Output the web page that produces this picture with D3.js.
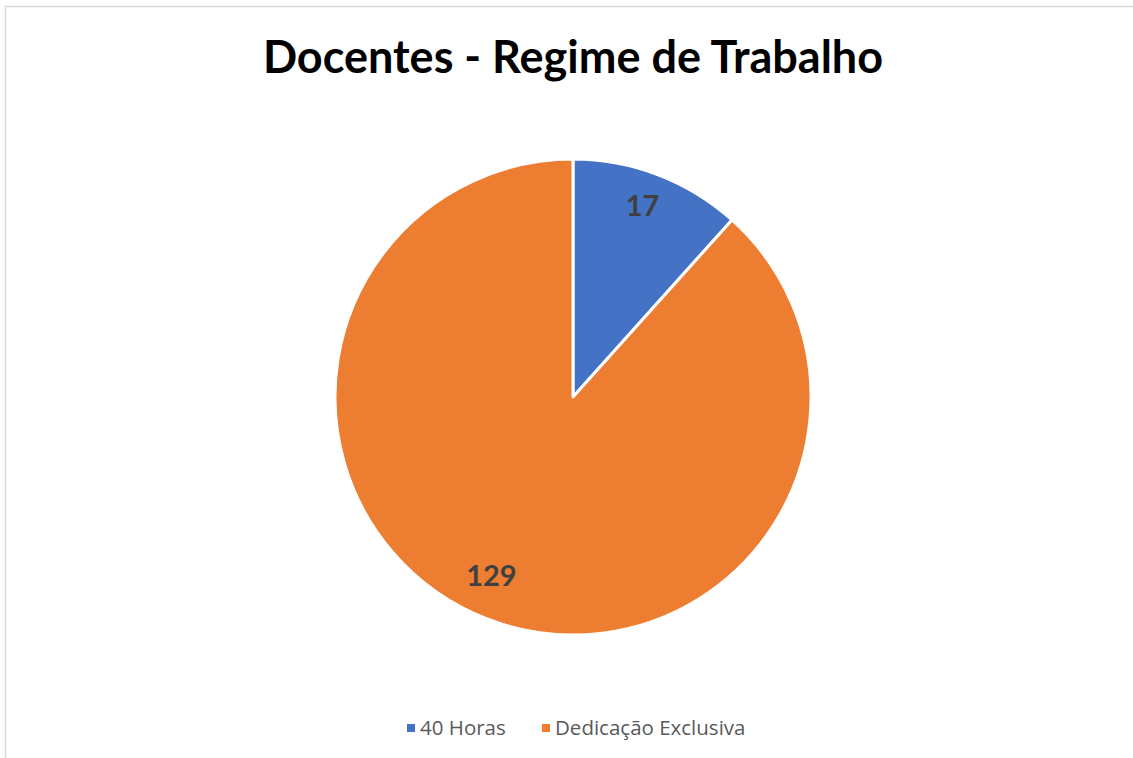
<!DOCTYPE html>
<html>
<head>
<meta charset="utf-8">
<script src="https://cdn.jsdelivr.net/npm/d3@7"></script>
<style>
  body { margin: 0; background: #fff; }
  svg { display: block; }
</style>
</head>
<body>
<svg id="chart" width="1133" height="758"></svg>
<script>
var categories = ["40 Horas", "Dedicação Exclusiva"];
var values = [17, 129];
var colors = ["#4472C4", "#ED7D31"];
var title = "Docentes - Regime de Trabalho";

var svg = d3.select("#chart"),
	width = +svg.attr("width"),
	height = +svg.attr("height");

// chart area border
svg.append("path")
	.attr("d", "M5.5," + height + "V6.5H" + width)
	.attr("fill", "none")
	.attr("stroke", "#d9d9d9")
	.attr("stroke-width", 1.5);

svg.append("text")
	.attr("x", 573).attr("y", 73)
	.attr("text-anchor", "middle")
	.attr("font-family", "Lato, 'Open Sans', sans-serif")
	.attr("font-weight", "bold")
	.attr("font-size", 45)
	.attr("fill", "#000")
	.text(title);

var cx = 573, cy = 397, radius = 238;

var data = categories.map(function(c, i) {
	return { name: c, value: values[i], color: colors[i] };
});

var pie = d3.pie().sort(null).value(function(d) { return d.value; });
var arc = d3.arc().innerRadius(0).outerRadius(radius);
var labelArc = d3.arc().innerRadius(200).outerRadius(200);
var labelNudge = [[-2, -4], [-10, -8]];

var g = svg.append("g").attr("transform", "translate(" + cx + "," + cy + ")");

g.selectAll("path.slice").data(pie(data)).enter().append("path")
	.attr("class", "slice")
	.attr("d", arc)
	.attr("fill", function(d) { return d.data.color; })
	.attr("stroke", "#fff")
	.attr("stroke-width", 3)
	.attr("stroke-linejoin", "round");

g.selectAll("text.lbl").data(pie(data)).enter().append("text")
	.attr("class", "lbl")
	.attr("transform", function(d, i) {
		var c = labelArc.centroid(d);
		return "translate(" + (c[0] + labelNudge[i][0]) + "," + (c[1] + labelNudge[i][1]) + ")";
	})
	.attr("text-anchor", "middle")
	.attr("dy", "0.35em")
	.attr("font-family", "Lato, 'Open Sans', sans-serif")
	.attr("font-weight", "bold")
	.attr("font-size", 29)
	.attr("fill", "#404040")
	.text(function(d) { return d.data.value; });

// legend
var legendX = [407, 542];
var legend = svg.selectAll("g.legend").data(data).enter().append("g")
	.attr("class", "legend")
	.attr("transform", function(d, i) { return "translate(" + legendX[i] + ",728)"; });

legend.append("rect")
	.attr("x", 0).attr("y", -4)
	.attr("width", 8).attr("height", 8)
	.attr("fill", function(d) { return d.color; });

legend.append("text")
	.attr("x", 13)
	.attr("dy", "0.35em")
	.attr("font-family", "'Open Sans', sans-serif")
	.attr("font-size", 20.5)
	.attr("fill", "#595959")
	.text(function(d) { return d.name; });
</script>
</body>
</html>
